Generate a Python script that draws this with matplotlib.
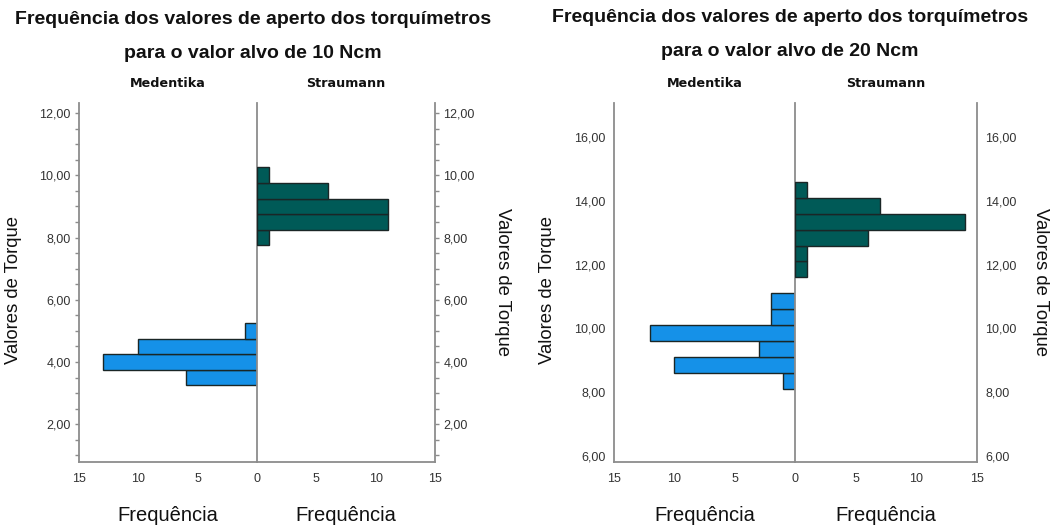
import matplotlib
matplotlib.use("Agg")
import matplotlib.pyplot as plt
import numpy as np

# ---- data ----
groups = ["Medentika", "Straumann"]
titles = ["Frequência dos valores de aperto dos torquímetros\npara o valor alvo de 10 Ncm",
          "Frequência dos valores de aperto dos torquímetros\npara o valor alvo de 20 Ncm"]
bin_width = 0.5

c1_med_bins = [3.5, 4.0, 4.5, 5.0]
c1_med_counts = [6, 13, 10, 1]
c1_str_bins = [8.0, 8.5, 9.0, 9.5, 10.0]
c1_str_counts = [1, 11, 11, 6, 1]

c2_med_bins = [8.35, 8.85, 9.35, 9.85, 10.35, 10.85]
c2_med_counts = [1, 10, 3, 12, 2, 2]
c2_str_bins = [11.85, 12.35, 12.85, 13.35, 13.85, 14.35]
c2_str_counts = [1, 1, 6, 14, 7, 1]

c1_yticks = [2, 4, 6, 8, 10, 12]
c2_yticks = [6, 8, 10, 12, 14, 16]
c1_ylim = (0.79, 12.32)
c2_ylim = (5.81, 17.07)
x_max = 15

BLUE = "#1591E8"
TEAL = "#005A57"
EDGE = "#1a2626"
SPINE = "#8c8c8c"
TXT = "#333333"
FONT = "Liberation Sans"

W, H = 1053, 528
fig = plt.figure(figsize=(W / 100, H / 100), dpi=100)


def px_axes(x0, x1, y_top, y_bot):
    return fig.add_axes([x0 / W, 1 - y_bot / H, (x1 - x0) / W, (y_bot - y_top) / H])


def make_chart(xl, xc, xr, med_bins, med_counts, str_bins, str_counts, yticks, ylim,
               title, minor, title_x, lab_left_x, lab_right_x, title_y1, title_y2):
    y_top, y_bot = 103, 462
    axl = px_axes(xl, xc, y_top, y_bot)
    axr = px_axes(xc, xr, y_top, y_bot)
    for ax in (axl, axr):
        ax.set_ylim(*ylim)
        ax.set_xlim(0, x_max)
        ax.spines["top"].set_visible(False)
        for s in ax.spines.values():
            s.set_color(SPINE)
            s.set_linewidth(1.3)
        ax.set_facecolor("white")
    axl.invert_xaxis()
    axl.spines["right"].set_visible(False)
    axr.spines["right"].set_visible(True)
    axr.spines["left"].set_visible(True)

    axl.barh(med_bins, med_counts, height=bin_width, color=BLUE, edgecolor=EDGE,
             linewidth=1.0, zorder=3)
    axr.barh(str_bins, str_counts, height=bin_width, color=TEAL, edgecolor=EDGE,
             linewidth=1.0, zorder=3)

    labels = [f"{v:.2f}".replace(".", ",") for v in yticks]
    axl.set_yticks(yticks)
    axl.set_yticklabels(labels, fontsize=9, color=TXT, family=FONT)
    axr.yaxis.tick_right()
    axr.set_yticks(yticks)
    axr.set_yticklabels(labels, fontsize=9, color=TXT, family=FONT)
    if minor:
        mt = np.arange(1.0, 12.01, 0.5)
        axl.set_yticks(mt, minor=True)
        axr.set_yticks(mt, minor=True)
        for ax in (axl, axr):
            ax.tick_params(axis="y", which="both", length=3, color=SPINE, width=1)
            ax.tick_params(axis="y", which="major", pad=3)
    else:
        for ax in (axl, axr):
            ax.tick_params(axis="y", which="both", length=0, pad=6)

    axl.set_xticks([15, 10, 5, 0])
    axl.set_xticklabels(["15", "10", "5", "0"], fontsize=9, color=TXT, family=FONT)
    axr.set_xticks([5, 10, 15])
    axr.set_xticklabels(["5", "10", "15"], fontsize=9, color=TXT, family=FONT)
    for ax in (axl, axr):
        ax.tick_params(axis="x", length=0, pad=8)

    axl.set_xlabel("Frequência", fontsize=14.5, family=FONT, color="#111111", labelpad=15)
    axr.set_xlabel("Frequência", fontsize=14.5, family=FONT, color="#111111", labelpad=15)

    axl.text(0.5, 1.035, groups[0], transform=axl.transAxes, ha="center", va="bottom",
             fontsize=9.2, fontweight="bold", family="DejaVu Sans", color="#111111")
    axr.text(0.5, 1.035, groups[1], transform=axr.transAxes, ha="center", va="bottom",
             fontsize=9.2, fontweight="bold", family="DejaVu Sans", color="#111111")

    t1, t2 = title.split("\n")
    fig.text(title_x / W, 1 - title_y1 / H, t1, ha="center", va="center", fontsize=14,
             fontweight="bold", family=FONT, color="#111111")
    fig.text(title_x / W, 1 - title_y2 / H, t2, ha="center", va="center", fontsize=14,
             fontweight="bold", family=FONT, color="#111111")

    fig.text(lab_left_x / W, 1 - 290 / H, "Valores de Torque", rotation=90, ha="center",
             va="center", fontsize=13.3, family=FONT, color="#111111")
    fig.text(lab_right_x / W, 1 - 282 / H, "Valores de Torque", rotation=-90, ha="center",
             va="center", fontsize=13.3, family=FONT, color="#111111")


make_chart(79, 257, 435, c1_med_bins, c1_med_counts, c1_str_bins, c1_str_counts,
           c1_yticks, c1_ylim, titles[0], True, 253, 14, 503, 20, 53)
make_chart(614, 795, 977, c2_med_bins, c2_med_counts, c2_str_bins, c2_str_counts,
           c2_yticks, c2_ylim, titles[1], False, 790, 547, 1041, 18, 51)

fig.savefig("out.png", dpi=100, facecolor="white")
